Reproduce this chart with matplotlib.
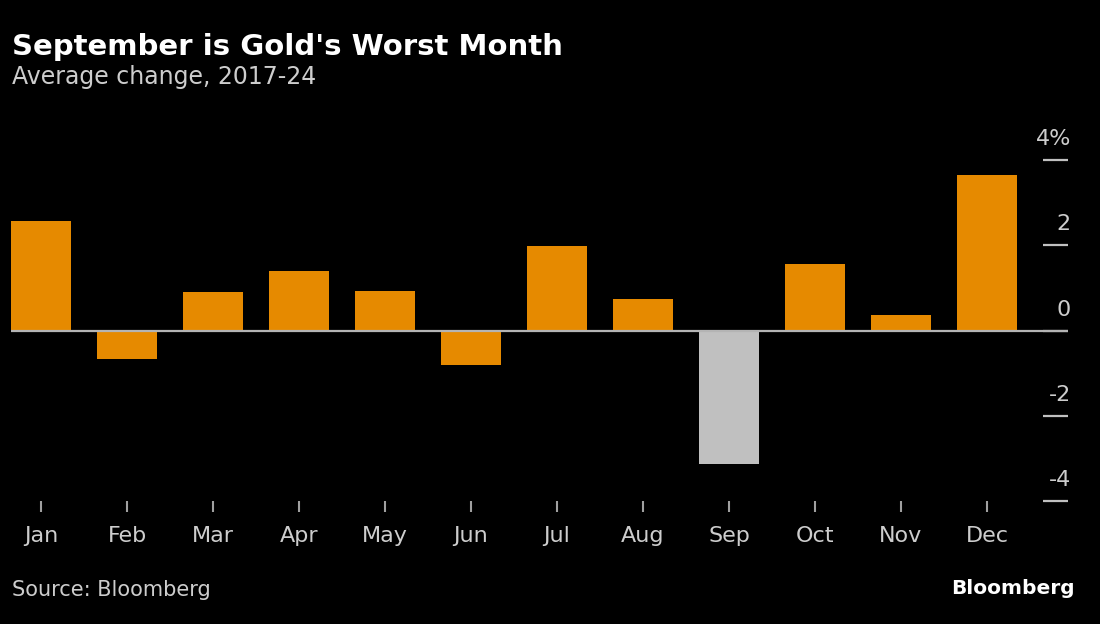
import matplotlib

matplotlib.use("Agg")
import matplotlib.pyplot as plt
from matplotlib import transforms


months = ["Jan", "Feb", "Mar", "Apr", "May", "Jun", "Jul", "Aug", "Sep", "Oct", "Nov", "Dec"]
avg_change = [2.57, -0.68, 0.91, 1.39, 0.92, -0.82, 1.98, 0.73, -3.13, 1.57, 0.37, 3.64]
y_ticks = [4, 2, 0, -2, -4]
y_tick_labels = ["4%", "2", "0", "-2", "-4"]
highlight_month = "Sep"

ORANGE = "#E68A00"
GREY = "#C0C0C0"
BG = "#000000"
TEXT = "#CDCDCD"

W, H = 1100, 624
fig = plt.figure(figsize=(W / 100, H / 100), dpi=100, facecolor=BG)
ax = fig.add_axes([0 / W, (H - 501) / H, 1068 / W, (501 - 160) / H])
ax.set_facecolor(BG)

x = list(range(len(months)))
colors = [GREY if m == highlight_month else ORANGE for m in months]
ax.bar(x, avg_change, width=0.70, color=colors, zorder=2)
# baseline runs from the first bar's left edge to the right tick marks
ax.hlines(0, -0.35, 11.95, color="#B4B4B4", linewidth=1.6, zorder=3)

ax.set_xlim(-0.477, 11.942)
ax.set_ylim(-4, 4)

for side in ("top", "bottom", "left", "right"):
    ax.spines[side].set_visible(False)

ax.set_xticks(x)
ax.set_xticklabels(months)
ax.tick_params(axis="x", length=8, width=1.5, color="#A0A0A0", pad=10,
               labelsize=16, labelcolor=TEXT)

ax.set_yticks(y_ticks)
ax.set_yticklabels([])
ax.tick_params(axis="y", left=False, right=True, direction="in", length=18,
               width=1.6, color="#C0C0C0")

# value labels sit just above their tick marks, right-aligned
label_tf = transforms.offset_copy(ax.get_yaxis_transform(), fig=fig, x=3, y=15, units="dots")
for v, lab in zip(y_ticks, y_tick_labels):
    ax.text(1.0, v, lab, transform=label_tf, ha="right", va="baseline",
            fontsize=16, color=TEXT)

fig.text(12 / W, 1 - 55 / H, "September is Gold's Worst Month", fontsize=21,
         fontweight="bold", color="white", ha="left", va="baseline")
fig.text(12 / W, 1 - 84 / H, "Average change, 2017-24", fontsize=17,
         color=TEXT, ha="left", va="baseline")
fig.text(12 / W, 1 - 596 / H, "Source: Bloomberg", fontsize=15,
         color=TEXT, ha="left", va="baseline")
fig.text(1075 / W, 1 - 594 / H, "Bloomberg", fontsize=14.5, fontweight="bold",
         color="white", ha="right", va="baseline")

fig.savefig("out.png", dpi=100, facecolor=BG)
